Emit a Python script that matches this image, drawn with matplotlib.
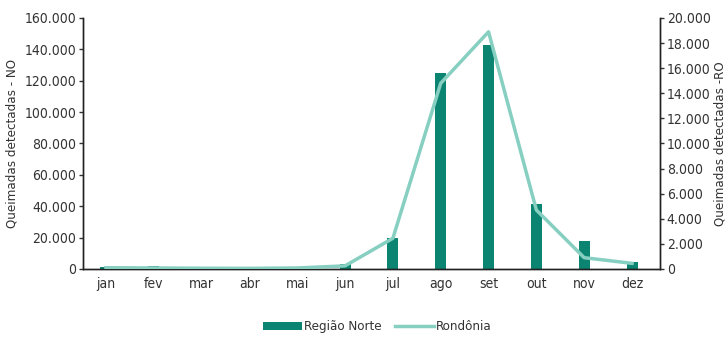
import matplotlib
matplotlib.use('Agg')
import matplotlib.pyplot as plt
from matplotlib.ticker import FuncFormatter

meses = ['jan', 'fev', 'mar', 'abr', 'mai', 'jun', 'jul', 'ago', 'set', 'out', 'nov', 'dez']
# focos detectados - Região Norte (eixo esquerdo)
norte = [1500, 2000, 1000, 300, 500, 3000, 20000, 125000, 143000, 41500, 18000, 4500]
# focos detectados - Rondônia (eixo direito)
rondonia = [100, 80, 60, 50, 80, 250, 2450, 14800, 18900, 4700, 900, 450]

plt.rcParams['font.family'] = ['DejaVu Sans']
plt.rcParams['font.stretch'] = 'condensed'
cor_barra = '#0b8571'
cor_linha = '#86cfc1'
cor_txt = '#333333'

fmt = FuncFormatter(lambda v, p: '{:,.0f}'.format(v).replace(',', '.'))

fig = plt.figure(figsize=(7.25, 3.37), dpi=100)
ax = fig.add_axes([0.1145, 0.2018, 0.7955, 0.7448])
ax2 = ax.twinx()

x = list(range(len(meses)))
ax.bar(x, norte, width=0.23, color=cor_barra, label='Região Norte', zorder=2)
ax2.plot(x, rondonia, color=cor_linha, lw=2.5, label='Rondônia', zorder=3)

ax.set_xlim(-0.48, 11.58)
ax.set_ylim(0, 160000)
ax2.set_ylim(0, 20000)
ax.set_yticks(range(0, 160001, 20000))
ax2.set_yticks(range(0, 20001, 2000))
ax.yaxis.set_major_formatter(fmt)
ax2.yaxis.set_major_formatter(fmt)
ax.set_xticks(x)
ax.set_xticklabels(meses)

for a in (ax, ax2):
    a.spines['top'].set_visible(False)
    for s in a.spines.values():
        s.set_color('#222222')
        s.set_linewidth(1)
    a.tick_params(axis='y', length=3, width=1, colors=cor_txt, labelsize=10, pad=2)
ax.tick_params(axis='x', length=0, colors=cor_txt, labelsize=10, pad=6)

ax.set_ylabel('Queimadas detectadas - NO', fontsize=9.5, color=cor_txt, labelpad=4)
ax2.set_ylabel('Queimadas detectadas -RO', fontsize=9.5, color=cor_txt, rotation=90, labelpad=2)

ax2.set_zorder(ax.get_zorder() + 1)
ax2.patch.set_visible(False)

h1, l1 = ax.get_legend_handles_labels()
h2, l2 = ax2.get_legend_handles_labels()
fig.legend(h1 + h2, l1 + l2, loc='center', bbox_to_anchor=(0.52, 0.03), ncol=2,
           frameon=False, fontsize=9.5, handlelength=3.0, handleheight=0.6,
           handletextpad=0.1, columnspacing=1.0, labelcolor=cor_txt)

fig.savefig('out.png', dpi=100)
